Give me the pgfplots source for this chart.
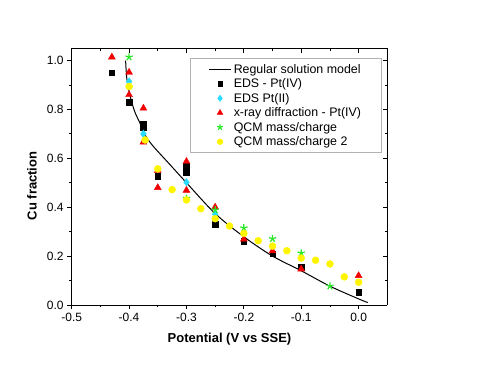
\documentclass[border=0pt]{standalone}
\usepackage{pgfplots}
\pgfplotsset{compat=1.18}
\usepackage{fontspec}
\setmainfont{Liberation Sans}
\definecolor{mycyan}{RGB}{40,220,255}
\definecolor{mygreen}{RGB}{40,230,40}
\definecolor{myyellow}{RGB}{255,245,0}
\definecolor{myred}{RGB}{240,0,0}
\pgfplotsset{
  mlegend/.style={legend image code/.code={\draw[mark repeat=2,mark phase=2,##1] plot coordinates {(0pt,0pt) (14pt,0pt) (28pt,0pt)};}},
  llegend/.style={legend image code/.code={\draw[##1] (0pt,0pt) -- (28pt,0pt);}},
}
\begin{document}
\begin{tikzpicture}
\path (0pt,0pt) rectangle (480pt,370pt);
\pgfplotsset{
  commonax/.style={
    scale only axis, width=315.6pt, height=256.7pt,
    at={(71.7pt,65pt)}, anchor=south west,
    xmin=-0.5, xmax=0.05, ymin=0, ymax=1.05,
    xtick={-0.5,-0.4,-0.3,-0.2,-0.1,0},
    ytick={0,0.2,0.4,0.6,0.8,1.0},
    minor x tick num=1, minor y tick num=1,
    major tick length=4.5pt, minor tick length=2.5pt,
    axis line style={line width=0.8pt,black},
    every tick/.style={line width=0.8pt,black},
    /pgf/number format/assume math mode=true,
    tick label style={font=\fontsize{12}{14}\selectfont},
    xticklabel style={/pgf/number format/.cd,fixed,fixed zerofill,precision=1},
    yticklabel style={/pgf/number format/.cd,fixed,fixed zerofill,precision=1},
  }
}
\begin{axis}[commonax,
  axis x line*=top, axis y line*=right, tick align=inside,
  xticklabels={}, yticklabels={}]
\end{axis}
\begin{axis}[commonax,
  axis x line*=bottom, axis y line*=left, tick align=outside,
  xlabel={\textbf{Potential (V vs SSE)}},
  ylabel={\textbf{Cu fraction}},
  label style={font=\fontsize{13}{15}\selectfont},
  xlabel style={at={(axis description cs:0.5,-0.132)},anchor=center},
  ylabel style={at={(axis description cs:-0.126,0.464)},anchor=center},
  legend style={at={(axis description cs:0.981,0.961)}, anchor=north east,
    draw=gray!60, line width=0.6pt, font=\fontsize{12.4}{14}\selectfont,
    row sep=0pt, inner xsep=18pt, inner ysep=3.5pt,
    legend cell align=left},
  legend image post style={scale=0.8},
]
\addplot[black, line width=1pt, smooth, tension=0.5, llegend] coordinates {
(-0.406,1.0) (-0.404,0.928) (-0.398,0.853) (-0.39,0.79) (-0.381,0.744)
(-0.374,0.703) (-0.36,0.655) (-0.331,0.58) (-0.30,0.50) (-0.25,0.374)
(-0.20,0.279) (-0.15,0.20) (-0.10,0.14) (-0.05,0.077) (0.0,0.025) (0.016,0.01)};
\addlegendentry{Regular solution model}
\addplot[only marks, mlegend, mark=square*, mark size=2.8pt, black, mark options={fill=black}] coordinates {
(-0.43,0.951) (-0.40,0.83) (-0.375,0.741) (-0.375,0.726) (-0.35,0.527)
(-0.30,0.569) (-0.30,0.542) (-0.25,0.33) (-0.20,0.262) (-0.15,0.21)
(-0.10,0.154) (0.0,0.052)};
\addlegendentry{EDS - Pt(IV)}
\addplot[only marks, mlegend, mark=diamond*, mark size=3.8pt, mycyan, mark options={fill=mycyan}] coordinates {
(-0.40,0.914) (-0.375,0.70) (-0.30,0.502) (-0.25,0.371)};
\addlegendentry{EDS Pt(II)}
\addplot[only marks, mlegend, mark=triangle*, mark size=4pt, myred, mark options={fill=myred}] coordinates {
(-0.43,1.014) (-0.40,0.952) (-0.40,0.86) (-0.375,0.805) (-0.375,0.666)
(-0.35,0.55) (-0.35,0.48) (-0.30,0.587) (-0.30,0.469) (-0.25,0.40)
(-0.20,0.269) (-0.15,0.221) (-0.10,0.147) (0.0,0.12)};
\addlegendentry{x-ray diffraction - Pt(IV)}
\addplot[only marks, mlegend, mark=star, mark size=3.8pt, mygreen, mark options={line width=1.2pt}] coordinates {
(-0.40,1.014) (-0.30,0.436) (-0.25,0.389) (-0.20,0.315) (-0.15,0.271)
(-0.10,0.212) (-0.05,0.077)};
\addlegendentry{QCM mass/charge}
\addplot[only marks, mlegend, mark=*, mark size=3.5pt, myyellow, mark options={fill=myyellow}] coordinates {
(-0.40,0.894) (-0.372,0.675) (-0.35,0.557) (-0.325,0.472) (-0.30,0.43)
(-0.275,0.394) (-0.25,0.353) (-0.225,0.323) (-0.20,0.293) (-0.175,0.263)
(-0.15,0.241) (-0.125,0.222) (-0.10,0.192) (-0.075,0.183) (-0.05,0.168)
(-0.025,0.115) (0.0,0.093)};
\addlegendentry{QCM mass/charge 2}
\end{axis}
\end{tikzpicture}
\end{document}
